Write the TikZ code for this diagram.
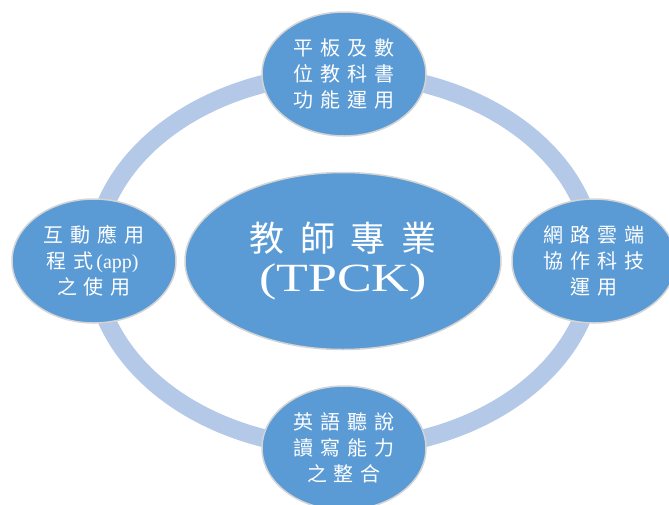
\documentclass[tikz,border=0pt]{standalone}
\usepackage{fontspec}
\setmainfont{Liberation Serif}
\newfontfamily\cjkfont[LetterSpace=35]{Noto Sans CJK TC}
\newfontfamily\hubfont[LetterSpace=45]{Noto Sans CJK TC}
\usetikzlibrary{shapes.geometric}
\usetikzlibrary{backgrounds}
\definecolor{smartblue}{RGB}{91,155,213}
\definecolor{ringblue}{RGB}{180,200,231}
\definecolor{rimgray}{RGB}{212,212,212}
\tikzset{
    hubnode/.style = {ellipse, draw=rimgray, line width=1.5pt, fill=smartblue, text=white, minimum width=316pt, minimum height=177pt, inner sep=0pt, align=center, font=\fontsize{35}{40}\selectfont},
    topicnode/.style = {ellipse, draw=rimgray, line width=1.5pt, fill=smartblue, text=white, minimum width=164pt, minimum height=124pt, inner sep=0pt, align=center, font=\cjkfont\fontsize{20}{26}\selectfont},
    ring/.style = {draw=ringblue, line width=18pt}
}

\begin{document}
\begin{tikzpicture}[x=1pt, y=-1pt]
  \useasboundingbox (0,0) rectangle (669,504);

  \node[hubnode] (hub) at (343,261) {{\hubfont 教師專業}\\{\fontsize{40}{40}\selectfont\scalebox{1.3}[1]{(TPCK)}}};

  \node[topicnode] (nleft) at (94,261) {互動應用\\程式{\rmfamily\,(app)\,}\\之使用};
  \node[topicnode] (ntop) at (344,74) {平板及數\\位教科書\\功能運用};
  \node[topicnode] (nright) at (594,261) {網路雲端\\協作科技\\運用};
  \node[topicnode] (nbottom) at (344,448) {英語聽說\\讀寫能力\\之整合};

  % ring through the four topics
  \begin{pgfonlayer}{background}
    \draw[ring] (ntop.center) arc[start angle=90, end angle=-270, x radius=250pt, y radius=187pt];
  \end{pgfonlayer}

\end{tikzpicture}
\end{document}
